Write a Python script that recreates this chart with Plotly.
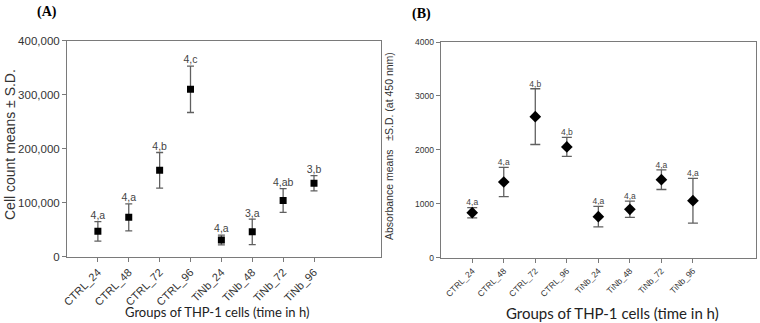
import plotly.graph_objects as go

groups = ["CTRL_24", "CTRL_48", "CTRL_72", "CTRL_96", "TiNb_24", "TiNb_48", "TiNb_72", "TiNb_96"]
groups_b = ["CTRL_24", "CTRL_48", "CTRL_72", "CTRL_96", "TiNb_24", "TiNb_48", "TiNb_72", "TiNb_96"]

count_mean = [47000, 73000, 160000, 310000, 31000, 46000, 104000, 136000]
count_sd = [18000, 25000, 33000, 43000, 9000, 23500, 22000, 14000]
count_labels = ["4,a", "4,a", "4,b", "4,c", "4,a", "3,a", "4,ab", "3,b"]

abs_mean = [835, 1404, 2616, 2054, 761, 898, 1447, 1057]
abs_sd = [95, 272, 517, 176, 190, 150, 182, 415]
abs_labels = ["4,a", "4,a", "4,b", "4,b", "4,a", "4,a", "4,a", "4,a"]

W, H = 760, 323
pos = list(range(1, len(groups) + 1))

fig = go.Figure()

# Panel A
fig.add_trace(go.Scatter(
    x=pos, y=count_mean, mode="markers",
    marker=dict(symbol="square", size=7, color="black"),
    error_y=dict(type="data", array=count_sd, visible=True, color="#606060", thickness=1.3, width=3.5),
    xaxis="x", yaxis="y", showlegend=False, hoverinfo="skip"))
fig.add_trace(go.Scatter(
    x=pos, y=[m + s for m, s in zip(count_mean, count_sd)], mode="text",
    text=count_labels, textposition="top center",
    textfont=dict(family="Liberation Sans, Arial", size=10.5, color="#444444"),
    xaxis="x", yaxis="y", showlegend=False, hoverinfo="skip", cliponaxis=False))

# Panel B
fig.add_trace(go.Scatter(
    x=pos, y=abs_mean, mode="markers",
    marker=dict(symbol="diamond", size=9, color="black"),
    error_y=dict(type="data", array=abs_sd, visible=True, color="#606060", thickness=1.3, width=5),
    xaxis="x2", yaxis="y2", showlegend=False, hoverinfo="skip"))
fig.add_trace(go.Scatter(
    x=pos, y=[m + s for m, s in zip(abs_mean, abs_sd)], mode="text",
    text=abs_labels, textposition="top center",
    textfont=dict(family="Liberation Sans, Arial", size=8.5, color="#444444"),
    xaxis="x2", yaxis="y2", showlegend=False, hoverinfo="skip", cliponaxis=False))

axis_common = dict(showgrid=False, zeroline=False, showline=True, linecolor="#7a7a7a",
                   linewidth=1, mirror=True, ticks="outside", tickcolor="#7a7a7a", ticklen=4,
                   automargin=False)

fig.update_layout(
    width=W, height=H,
    margin=dict(l=0, r=0, t=0, b=0, pad=0, autoexpand=False),
    paper_bgcolor="white", plot_bgcolor="white",
    xaxis=dict(domain=[67 / W, 381 / W], range=[0, 10.17], tickmode="array",
               tickvals=pos, ticktext=groups, tickangle=-45, anchor="y",
               tickfont=dict(family="Liberation Sans, Arial", size=11, color="#333333"),
               **axis_common),
    yaxis=dict(domain=[(H - 256.7) / H, (H - 40.7) / H], range=[0, 400000],
               tickvals=[0, 100000, 200000, 300000, 400000], tickformat=",", anchor="x",
               tickfont=dict(family="Liberation Sans, Arial", size=11.5, color="#333333"),
               **axis_common),
    xaxis2=dict(domain=[440.7 / W, 756 / W], range=[0, 10], tickmode="array",
                tickvals=pos, ticktext=groups_b, tickangle=-45, anchor="y2",
                tickfont=dict(family="Liberation Sans, Arial", size=8.5, color="#333333"),
                **axis_common),
    yaxis2=dict(domain=[(H - 257.7) / H, (H - 42) / H], range=[0, 4000],
                tickvals=[0, 1000, 2000, 3000, 4000], anchor="x2",
                tickfont=dict(family="Liberation Sans, Arial", size=8.5, color="#333333"),
                **axis_common),
    annotations=[
        dict(text="<b>(A)</b>", x=47 / W, y=1 - 12 / H, xref="paper", yref="paper",
             showarrow=False, xanchor="center", yanchor="middle",
             font=dict(family="Liberation Serif, Times New Roman", size=14, color="black")),
        dict(text="<b>(B)</b>", x=422 / W, y=1 - 14 / H, xref="paper", yref="paper",
             showarrow=False, xanchor="center", yanchor="middle",
             font=dict(family="Liberation Serif, Times New Roman", size=14, color="black")),
        dict(text="Cell count means ± S.D.", x=10 / W, y=1 - 145 / H, xref="paper", yref="paper",
             showarrow=False, textangle=-90, xanchor="center", yanchor="middle",
             font=dict(family="Liberation Sans, Arial", size=14, color="#333333")),
        dict(text="Absorbance means   ±S.D. (at 450 nnm)", x=389 / W, y=1 - 146 / H,
             xref="paper", yref="paper", showarrow=False, textangle=-90,
             xanchor="center", yanchor="middle",
             font=dict(family="Liberation Sans, Arial", size=10.5, color="#333333")),
        dict(text="Groups of THP-1 cells (time in h)", x=217 / W, y=1 - 312 / H,
             xref="paper", yref="paper", showarrow=False, xanchor="center", yanchor="middle",
             font=dict(family="Lato, Open Sans", size=13, color="#222222")),
        dict(text="Groups of THP-1 cells (time in h)", x=612 / W, y=1 - 313 / H,
             xref="paper", yref="paper", showarrow=False, xanchor="center", yanchor="middle",
             font=dict(family="Lato, Open Sans", size=15, color="#222222")),
    ],
)

fig.write_html("out.html", config={"displayModeBar": False},
               post_script="document.body.style.margin='0px';")
